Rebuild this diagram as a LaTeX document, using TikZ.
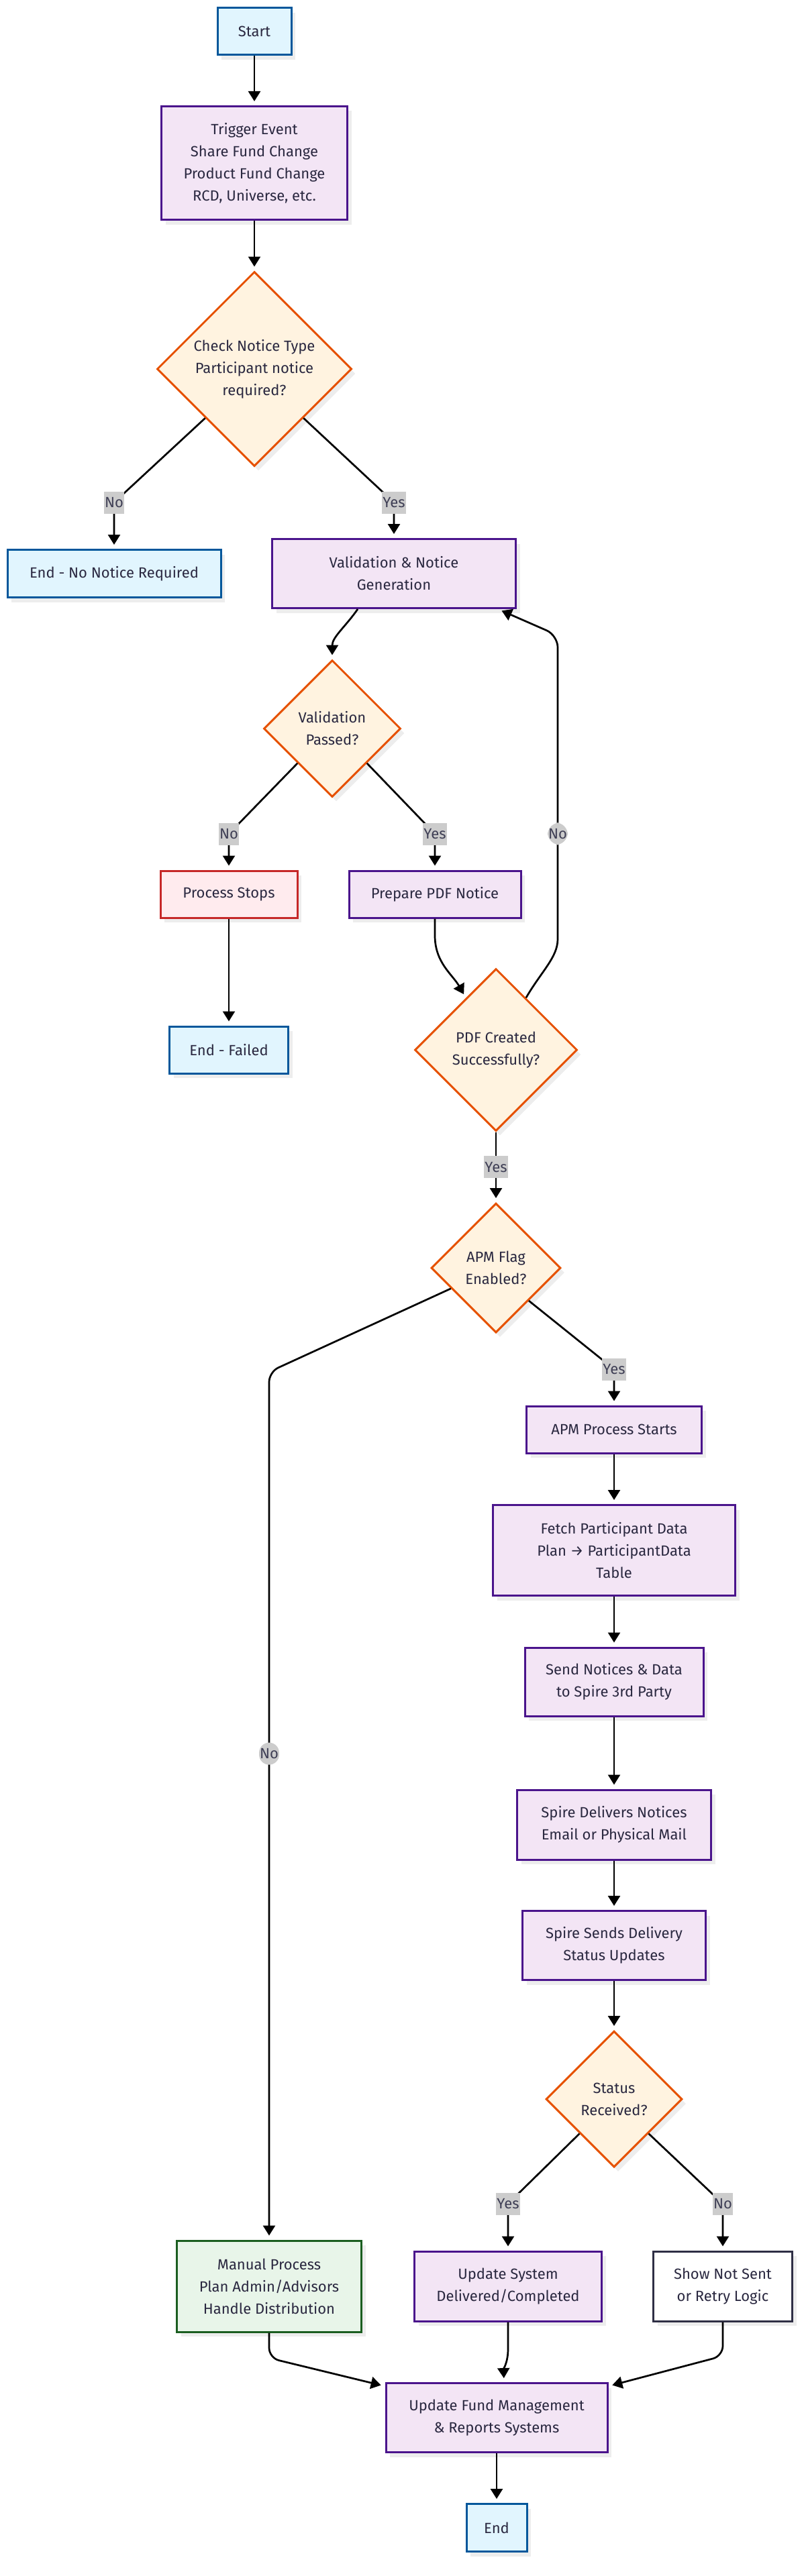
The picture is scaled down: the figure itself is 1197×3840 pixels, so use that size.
\documentclass[tikz,border=0pt]{standalone}
\usepackage{fontspec}
\setmainfont{Fira Sans}
\usetikzlibrary{shapes.geometric,arrows.meta,shadows}
\definecolor{inkc}{HTML}{2A2840}
\definecolor{bluec}{HTML}{01579B}
\definecolor{bluef}{HTML}{E1F5FE}
\definecolor{purc}{HTML}{4A148C}
\definecolor{purf}{HTML}{F3E5F5}
\definecolor{orac}{HTML}{E65100}
\definecolor{oraf}{HTML}{FFF3E0}
\definecolor{redc}{HTML}{C62828}
\definecolor{redf}{HTML}{FFEBEE}
\definecolor{grnc}{HTML}{1B5E20}
\definecolor{grnf}{HTML}{E8F5E9}
\definecolor{darkc}{HTML}{2F2F45}
\definecolor{labelf}{HTML}{CCCCCC}
\definecolor{labelt}{HTML}{3F3F55}
\begin{document}
\begin{tikzpicture}[x=1pt,y=-1pt,
    every node/.style={font=\fontsize{22}{33}\selectfont, text=inkc},
    box/.style={draw, rectangle, line width=3pt, align=center, inner sep=0pt,
      drop shadow={shadow xshift=6pt, shadow yshift=-7pt, fill=black!7, opacity=1}},
    startend/.style={box, draw=bluec, fill=bluef},
    proc/.style={box, draw=purc, fill=purf},
    failbox/.style={box, draw=redc, fill=redf},
    manualbox/.style={box, draw=grnc, fill=grnf},
    plainbox/.style={box, draw=darkc, fill=white},
    decision/.style={box, diamond, aspect=1, draw=orac, fill=oraf},
    elabel/.style={fill=labelf, text=labelt, inner xsep=1pt, inner ysep=0pt, minimum height=33pt},
    flow/.style={line width=2.7pt, -{Triangle[width=18pt,length=15pt]}, shorten >=6pt}]
  \useasboundingbox (0,0) rectangle (1197,3840);

  \node[startend, minimum width=110pt, minimum height=70pt] (start) at (379,47) {Start};
  \node[proc, minimum width=277pt, minimum height=169pt] (trig) at (379,243) {Trigger Event\\Share Fund Change\\Product Fund Change\\RCD, Universe, etc.};
  \node[decision, minimum size=290pt] (chk) at (379,550) {Check Notice Type\\Participant notice\\required?};
  \node[startend, minimum width=318pt, minimum height=71pt] (endnone) at (170,855) {End - No Notice Required};
  \node[proc, minimum width=363pt, minimum height=103pt] (vgen) at (587,855) {Validation \& Notice\\Generation};
  \node[decision, minimum size=204pt] (vpass) at (495,1086) {Validation\\Passed?};
  \node[failbox, minimum width=204pt, minimum height=70pt] (stops) at (341,1333) {Process Stops};
  \node[proc, minimum width=256pt, minimum height=70pt] (pdfprep) at (648,1333) {Prepare PDF Notice};
  \node[startend, minimum width=177pt, minimum height=70pt] (endfail) at (341,1565) {End - Failed};
  \node[decision, minimum size=242pt] (pdfok) at (739,1565) {PDF Created\\Successfully?};
  \node[decision, minimum size=193pt] (apm) at (739,1890) {APM Flag\\Enabled?};
  \node[proc, minimum width=261pt, minimum height=70pt] (apmstart) at (915,2131) {APM Process Starts};
  \node[proc, minimum width=361pt, minimum height=135pt] (fetch) at (915,2311) {Fetch Participant Data\\Plan → ParticipantData\\Table};
  \node[proc, minimum width=266pt, minimum height=102pt] (send) at (915,2507) {Send Notices \& Data\\to Spire 3rd Party};
  \node[proc, minimum width=289pt, minimum height=104pt] (spdel) at (915,2720) {Spire Delivers Notices\\Email or Physical Mail};
  \node[proc, minimum width=273pt, minimum height=103pt] (spsend) at (915,2900) {Spire Sends Delivery\\Status Updates};
  \node[decision, minimum size=203pt] (status) at (915,3129) {Status\\Received?};
  \node[manualbox, minimum width=275pt, minimum height=136pt] (manual) at (401,3408) {Manual Process\\Plan Admin/Advisors\\Handle Distribution};
  \node[proc, minimum width=279pt, minimum height=104pt] (updsys) at (757,3408) {Update System\\Delivered/Completed};
  \node[plainbox, minimum width=207pt, minimum height=104pt] (notsent) at (1077,3408) {Show Not Sent\\or Retry Logic};
  \node[proc, minimum width=330pt, minimum height=103pt] (ufm) at (740,3604) {Update Fund Management\\\& Reports Systems};
  \node[startend, minimum width=90pt, minimum height=71pt] (finish) at (740,3768) {End};

  \draw[flow] (start) -- (trig);
  \draw[flow] (trig) -- (chk);
  \draw[flow] (chk.south west) -- (endnone.north |- 0,749) node[elabel] {No} -- (endnone.north);
  \draw[flow] (chk.south east) -- (vgen.north |- 0,749) node[elabel] {Yes} -- (vgen.north);
  \draw[flow] ([xshift=-54pt]vgen.south) to[out=-125,in=90] (vpass.north);
  \draw[flow] (vpass.south west) -- (stops.north |- 0,1243) node[elabel] {No} -- (stops.north);
  \draw[flow] (vpass.south east) -- (pdfprep.north |- 0,1243) node[elabel] {Yes} -- (pdfprep.north);
  \draw[flow] (stops) -- (endfail);
  \draw[flow] (pdfprep.south) -- ++(0,25) to[out=-90,in=120] (pdfok);
  \draw[flow, rounded corners=18pt] (pdfok.60) to[out=60,in=-90] (831,1382) -- node[elabel, pos=0.32] {No} (831,947) -- ([xshift=-28pt]vgen.south east);
  \draw[flow] (pdfok) -- node[elabel] {Yes} (apm);
  \draw[flow, rounded corners=15pt] (apm) -- (manual.north |- 0,2045) -- node[elabel, pos=0.44] {No} (manual.north);
  \draw[flow] (apm.south east) -- (apmstart.north |- 0,2041) node[elabel] {Yes} -- (apmstart.north);
  \foreach \a/\b in {apmstart/fetch, fetch/send, send/spdel, spdel/spsend, spsend/status}
    \draw[flow] (\a) -- (\b);
  \draw[flow] (status.south west) -- (updsys.north |- 0,3285) node[elabel] {Yes} -- (updsys.north);
  \draw[flow] (status.south east) -- (notsent.north |- 0,3285) node[elabel] {No} -- (notsent.north);
  \draw[flow, rounded corners=15pt] (manual.south) -- (manual.south |- 0,3515) -- ([yshift=-6pt]ufm.north west);
  \draw[flow] (updsys.south) -- ++(0,40) to[out=-90,in=92] ([xshift=11pt]ufm.north);
  \draw[flow, rounded corners=15pt] (notsent.south) -- (notsent.south |- 0,3512) -- ([yshift=-6pt]ufm.north east);
  \draw[flow] (ufm) -- (finish);
\end{tikzpicture}
\end{document}
